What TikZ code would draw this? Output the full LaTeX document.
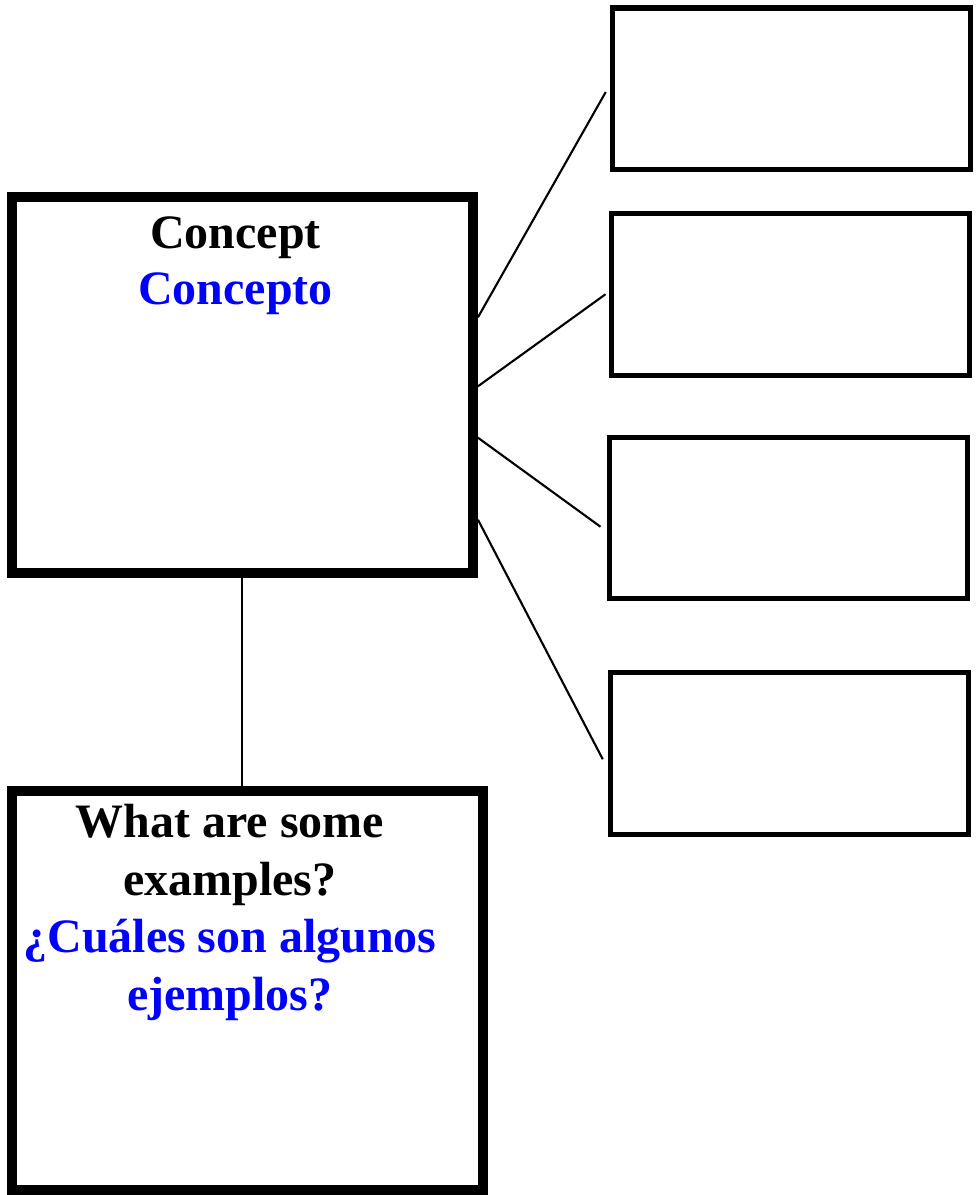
\documentclass[tikz,border=0pt]{standalone}
\usepackage{fontspec}
\setmainfont{Liberation Serif}
\usepackage{tikz}

\begin{document}
\begin{tikzpicture}[
    conceptbox/.style={draw, line width=0.2cm, inner sep=0pt, minimum width=#1},
    answerbox/.style={draw, line width=0.1cm, inner sep=0pt, minimum width=7.16cm, minimum height=3.23cm},
    link/.style={line width=1.2pt},
    boxtext/.style={align=center, anchor=north, inner sep=0pt, font=\bfseries\fontsize{27.3}{#1}\selectfont}
  ]
            \useasboundingbox (0,0) rectangle (19.5,-23.9);
            % main boxes
            \node[conceptbox=9.23cm, minimum height=7.53cm] (concept) at (4.845,-7.695) {};
            \node[conceptbox=9.41cm, minimum height=7.98cm] (examples) at (4.945,-19.81) {};
            \node[boxtext=31.8] (concepttext) at (4.71,-4.32) {Concept\\\textcolor{blue}{Concepto}};
            \node[boxtext=32.8] (examplestext) at (4.6,-16.08) {What are some\\examples?\\\textcolor{blue}{¿Cuáles son algunos}\\\textcolor{blue}{ejemplos?}};
            % boxes on the right
            \node[answerbox] (ans1) at (15.835,-1.775) {};
            \node[answerbox] (ans2) at (15.8,-5.885) {};
            \node[answerbox] (ans3) at (15.76,-10.355) {};
            \node[answerbox] (ans4) at (15.795,-15.065) {};
            \draw[link] ([yshift=1.35cm]concept.east) -- ([xshift=-0.09cm,yshift=-0.065cm]ans1.west);
            \draw[link] ([yshift=-0.03cm]concept.east) -- ([xshift=-0.06cm]ans2.west);
            \draw[link] ([yshift=-1.06cm]concept.east) -- ([xshift=-0.12cm,yshift=-0.18cm]ans3.west);
            \draw[link] ([yshift=-2.7cm]concept.east) -- ([xshift=-0.11cm,yshift=-0.12cm]ans4.west);
            \draw[link] (concept.south) -- (concept.south |- examples.north);
        \end{tikzpicture}
\end{document}
